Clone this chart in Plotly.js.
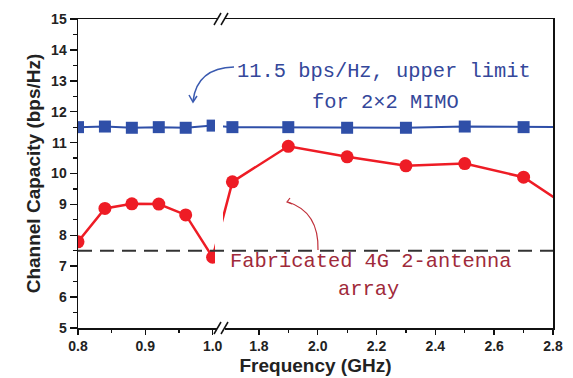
<!DOCTYPE html>
<html><head><meta charset="utf-8">
<script src="https://cdn.plot.ly/plotly-3.0.1.min.js"></script>
<style>body{margin:0;background:#fff}#chart{width:573px;height:378px}</style>
</head><body><div id="chart"></div>
<script>
// ---- data ----
const freqGHz = [0.80, 0.84, 0.88, 0.92, 0.96, 1.00, 1.71, 1.90, 2.10, 2.30, 2.50, 2.70, 2.90];
const fabricatedCapacity = [7.79, 8.87, 9.02, 9.01, 8.66, 7.29, 9.73, 10.88, 10.54, 10.25, 10.32, 9.88, 8.62];
const upperLimitCapacity = [11.50, 11.52, 11.48, 11.50, 11.48, 11.55, 11.50, 11.50, 11.48, 11.48, 11.52, 11.50, 11.50];
const referenceLevel = 7.5;
const xMajorTicks = [0.8, 0.9, 1.0, 1.8, 2.0, 2.2, 2.4, 2.6, 2.8];
const xMajorLabels = ['0.8', '0.9', '1.0', '1.8', '2.0', '2.2', '2.4', '2.6', '2.8'];
const xMinorTicks = [0.85, 0.95, 1.9, 2.1, 2.3, 2.5, 2.7];
const yTicks = [5, 6, 7, 8, 9, 10, 11, 12, 13, 14, 15];
const blueText = ['11.5 bps/Hz, upper limit', 'for 2\u00d72 MIMO'];
const redText = ['Fabricated 4G 2-antenna', 'array'];

// ---- broken x axis geometry ----
const W = 573, H = 378;
const PL = 78, PR = 553, PT = 19, PB = 328;
const SEG_L = [0.8, 1.005], SEG_R = [1.695, 2.8];
const LEFT_PX = 138, GAP_PX = 12;
const RIGHT_PX = (PR - PL) - LEFT_PX - GAP_PX;
const kL = LEFT_PX / (SEG_L[1] - SEG_L[0]);
const kR = RIGHT_PX / (SEG_R[1] - SEG_R[0]);
function bx(f) { return f <= SEG_L[1] ? f : SEG_L[1] + (GAP_PX + (f - SEG_R[0]) * kR) / kL; }
const px = p => (p - PL) / (PR - PL);
const py = p => (PB - p) / (PB - PT);

const BLUE = '#2f4fa8', RED = '#ee1c25';

const traces = [
  {x: freqGHz.map(bx), y: upperLimitCapacity, mode: 'lines+markers', cliponaxis: true,
   line: {color: BLUE, width: 2}, marker: {symbol: 'square', size: 12, color: BLUE}},
  {x: freqGHz.map(bx), y: fabricatedCapacity, mode: 'lines+markers', cliponaxis: true,
   line: {color: RED, width: 2.5}, marker: {symbol: 'circle', size: 13, color: RED}}
];

const gapL = PL + LEFT_PX - 1, gapR = PL + LEFT_PX + 7;
const shapes = [
  {type: 'rect', xref: 'paper', yref: 'paper', x0: px(gapL), x1: px(gapR), y0: py(PB - 1.5), y1: py(PT + 1.5),
   fillcolor: '#fff', line: {width: 0}, layer: 'above'},
  {type: 'line', xref: 'paper', yref: 'y', x0: 0, x1: 1, y0: referenceLevel, y1: referenceLevel,
   line: {color: '#333', width: 2, dash: '14px,8px'}, layer: 'above'},
];
[PB, PT].forEach(yy => {
  shapes.push({type: 'rect', xref: 'paper', yref: 'paper', x0: px(217), x1: px(225), y0: py(yy + 2), y1: py(yy - 2),
    fillcolor: '#fff', line: {width: 0}, layer: 'above'});
  [214, 221].forEach(x0 => shapes.push({type: 'line', xref: 'paper', yref: 'paper',
    x0: px(x0), y0: py(yy + 6), x1: px(x0 + 7), y1: py(yy - 6), line: {color: '#111', width: 1.5}, layer: 'above'}));
});
function pathPx(pts) {
  return pts.map(s => s[0] + ' ' + s.slice(1).map((v, i) => i % 2 === 0 ? px(v) : py(v)).join(' ')).join(' ');
}
shapes.push({type: 'path', xref: 'paper', yref: 'paper', path: pathPx([['M', 234, 67], ['Q', 197, 68, 193, 101]]),
  line: {color: '#3a5ab0', width: 1.5}, layer: 'above'});
shapes.push({type: 'path', xref: 'paper', yref: 'paper', path: pathPx([['M', 189, 95], ['L', 193, 102], ['L', 197, 96]]),
  line: {color: '#3a5ab0', width: 1.5}, layer: 'above'});
shapes.push({type: 'path', xref: 'paper', yref: 'paper', path: pathPx([['M', 318, 250], ['Q', 319, 212, 288, 202]]),
  line: {color: '#c0303a', width: 1.2}, layer: 'above'});
shapes.push({type: 'path', xref: 'paper', yref: 'paper', path: pathPx([['M', 290, 198], ['L', 287, 202], ['L', 292, 204]]),
  line: {color: '#c0303a', width: 1.2}, layer: 'above'});

const txtFont = (c) => ({family: 'Liberation Mono, monospace', size: 20.4, color: c});
const annotations = [
  {text: blueText[0], x: px(384), y: py(58), xref: 'paper', yref: 'paper', showarrow: false, font: txtFont('#34479a')},
  {text: blueText[1], x: px(385), y: py(89), xref: 'paper', yref: 'paper', showarrow: false, font: txtFont('#34479a')},
  {text: redText[0], x: px(370), y: py(275), xref: 'paper', yref: 'paper', showarrow: false, font: txtFont('#a02a3a')},
  {text: redText[1], x: px(368), y: py(303), xref: 'paper', yref: 'paper', showarrow: false, font: txtFont('#a02a3a')}
];

const tickFont = {family: 'Liberation Sans, Arial', size: 14, color: '#222', weight: 'bold'};
const layout = {
  width: W, height: H,
  margin: {l: PL, r: W - PR, t: PT, b: H - PB},
  paper_bgcolor: '#fff', plot_bgcolor: '#fff',
  showlegend: false,
  xaxis: {
    range: [SEG_L[0], bx(SEG_R[1])], tickmode: 'array', tickvals: xMajorTicks.map(bx), ticktext: xMajorLabels,
    ticks: 'outside', ticklen: 5, tickwidth: 1.5, tickcolor: '#111',
    minor: {tickmode: 'array', tickvals: xMinorTicks.map(bx), ticks: 'outside', ticklen: 3, tickwidth: 1.2, tickcolor: '#111'},
    showline: true, linecolor: '#111', linewidth: 1.5, mirror: true, showgrid: false, zeroline: false,
    tickfont: tickFont,
    title: {text: 'Frequency (GHz)', font: {family: 'Liberation Sans, Arial', size: 19, color: '#222', weight: 'bold'}, standoff: 5}
  },
  yaxis: {
    range: [5, 15], tickmode: 'array', tickvals: yTicks,
    ticks: 'outside', ticklen: 7, tickwidth: 1.5, tickcolor: '#111',
    minor: {dtick: 0.5, ticks: 'outside', ticklen: 4, tickwidth: 1.2, tickcolor: '#111'},
    showline: true, linecolor: '#111', linewidth: 1.5, mirror: true, showgrid: false, zeroline: false,
    tickfont: tickFont,
    title: {text: 'Channel Capacity (bps/Hz)', font: {family: 'Liberation Sans, Arial', size: 19, color: '#222', weight: 'bold'}, standoff: 5}
  },
  shapes: shapes,
  annotations: annotations
};
Plotly.newPlot('chart', traces, layout, {displayModeBar: false, staticPlot: true});
</script>
</body></html>
